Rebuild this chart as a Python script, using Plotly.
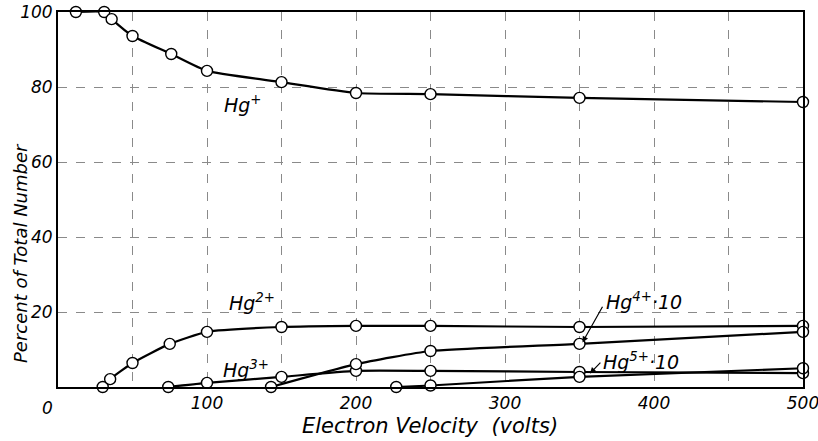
import plotly.graph_objects as go

# ---- data ----
hg1_v = [12, 31, 36, 50, 76, 100, 150, 200, 250, 350, 500]
hg1_p = [100, 100, 98.1, 93.6, 88.8, 84.3, 81.3, 78.4, 78.1, 77.1, 76.0]

hg2_v = [30, 35, 50, 75, 100, 150, 200, 250, 350, 500]
hg2_p = [0, 2.1, 6.4, 11.5, 14.7, 16.0, 16.3, 16.3, 16.0, 16.3]

hg3_v = [74, 100, 150, 200, 250, 350, 500]
hg3_p = [0, 1.1, 2.7, 4.3, 4.3, 4.0, 3.7]

hg4_v = [143, 200, 250, 350, 500]
hg4_p = [0, 6.1, 9.6, 11.5, 14.7]

hg5_v = [227, 250, 350, 500]
hg5_p = [0, 0.4, 2.7, 5.0]

x_ticks = [100, 200, 300, 400, 500]
y_ticks = [20, 40, 60, 80, 100]

FONT = "DejaVu Sans"

fig = go.Figure()

series = [(hg1_v, hg1_p), (hg2_v, hg2_p), (hg3_v, hg3_p), (hg4_v, hg4_p), (hg5_v, hg5_p)]
for xs, ys in series:
    fig.add_trace(go.Scatter(
        x=xs, y=ys, mode="lines+markers",
        line=dict(color="black", width=2.2, shape="spline", smoothing=0.5),
        marker=dict(symbol="circle", size=11, color="white",
                    line=dict(color="black", width=1.4)),
        cliponaxis=False, showlegend=False, hoverinfo="skip"))

lab_font = dict(family=FONT, size=19, color="black", style="italic")

labels = [
    ("Hg<sup>+</sup>", 124, 75.5),
    ("Hg<sup>2+</sup>", 130, 22.6),
    ("Hg<sup>3+</sup>", 126, 4.8),
    ("Hg<sup>4+</sup>·10", 393, 23.0),
    ("Hg<sup>5+</sup>·10", 391, 7.0),
]
for txt, x, y in labels:
    fig.add_annotation(x=x, y=y, xref="x", yref="y", text=txt, showarrow=False,
                       font=lab_font, xanchor="center", yanchor="middle")

# arrows from labels to curves
fig.add_annotation(x=352, y=11.9, ax=366, ay=21.8, xref="x", yref="y",
                   axref="x", ayref="y", text="", showarrow=True,
                   arrowhead=2, arrowsize=1, arrowwidth=1.2, arrowcolor="black")
fig.add_annotation(x=357, y=3.6, ax=365, ay=6.9, xref="x", yref="y",
                   axref="x", ayref="y", text="", showarrow=True,
                   arrowhead=2, arrowsize=1, arrowwidth=1.2, arrowcolor="black")

# origin label
fig.add_annotation(x=0, y=0, xref="x", yref="y", text="0", showarrow=False,
                   font=dict(family=FONT, size=17, color="black", style="italic"),
                   xanchor="center", yanchor="top", xshift=-11, yshift=-9)

# axis titles (placed as in the reference)
fig.add_annotation(x=20, y=253, xref="paper", yref="paper", text="Percent of Total Number",
                   showarrow=False, textangle=-90,
                   font=dict(family=FONT, size=18, color="black", style="italic"),
                   xanchor="center", yanchor="middle")
fig.add_annotation(x=430, y=426, xref="paper", yref="paper", text="Electron Velocity  (volts)",
                   showarrow=False,
                   font=dict(family=FONT, size=21, color="black", style="italic"),
                   xanchor="center", yanchor="middle")

grid = dict(showgrid=True, gridcolor="#8a8a8a", gridwidth=1, griddash="dash")

fig.update_xaxes(
    range=[0, 500], tickvals=x_ticks, ticktext=[str(v) for v in x_ticks],
    ticks="", showline=True, linecolor="black", linewidth=2, mirror=True,
    zeroline=False, automargin=False, ticklabeloverflow="allow",
    tickfont=dict(family=FONT, size=17, color="black", style="italic"),
    minor=dict(dtick=50, tick0=0, showgrid=True, gridcolor="#8a8a8a",
               gridwidth=1, griddash="dash", ticks=""),
    **grid)

fig.update_yaxes(
    range=[0, 100], tickvals=y_ticks, ticktext=[str(v) for v in y_ticks],
    ticks="", showline=True, linecolor="black", linewidth=2, mirror=True,
    zeroline=False, automargin=False, ticklabeloverflow="allow",
    tickfont=dict(family=FONT, size=17, color="black", style="italic"),
    **grid)

fig.update_layout(
    width=818, height=441,
    margin=dict(l=58, r=15, t=12, b=54),
    paper_bgcolor="white", plot_bgcolor="white",
    font=dict(family=FONT, color="black"),
)

# convert paper-pixel positions of the title annotations into paper fractions
W, H = 818, 441
L, R, T, B = 58, 15, 12, 54
pw, ph = W - L - R, H - T - B
for ann in fig.layout.annotations:
    if ann.xref == "paper":
        px, py = ann.x, ann.y
        ann.x = (px - L) / pw
        ann.y = (H - B - py) / ph

fig.write_html("out.html")
